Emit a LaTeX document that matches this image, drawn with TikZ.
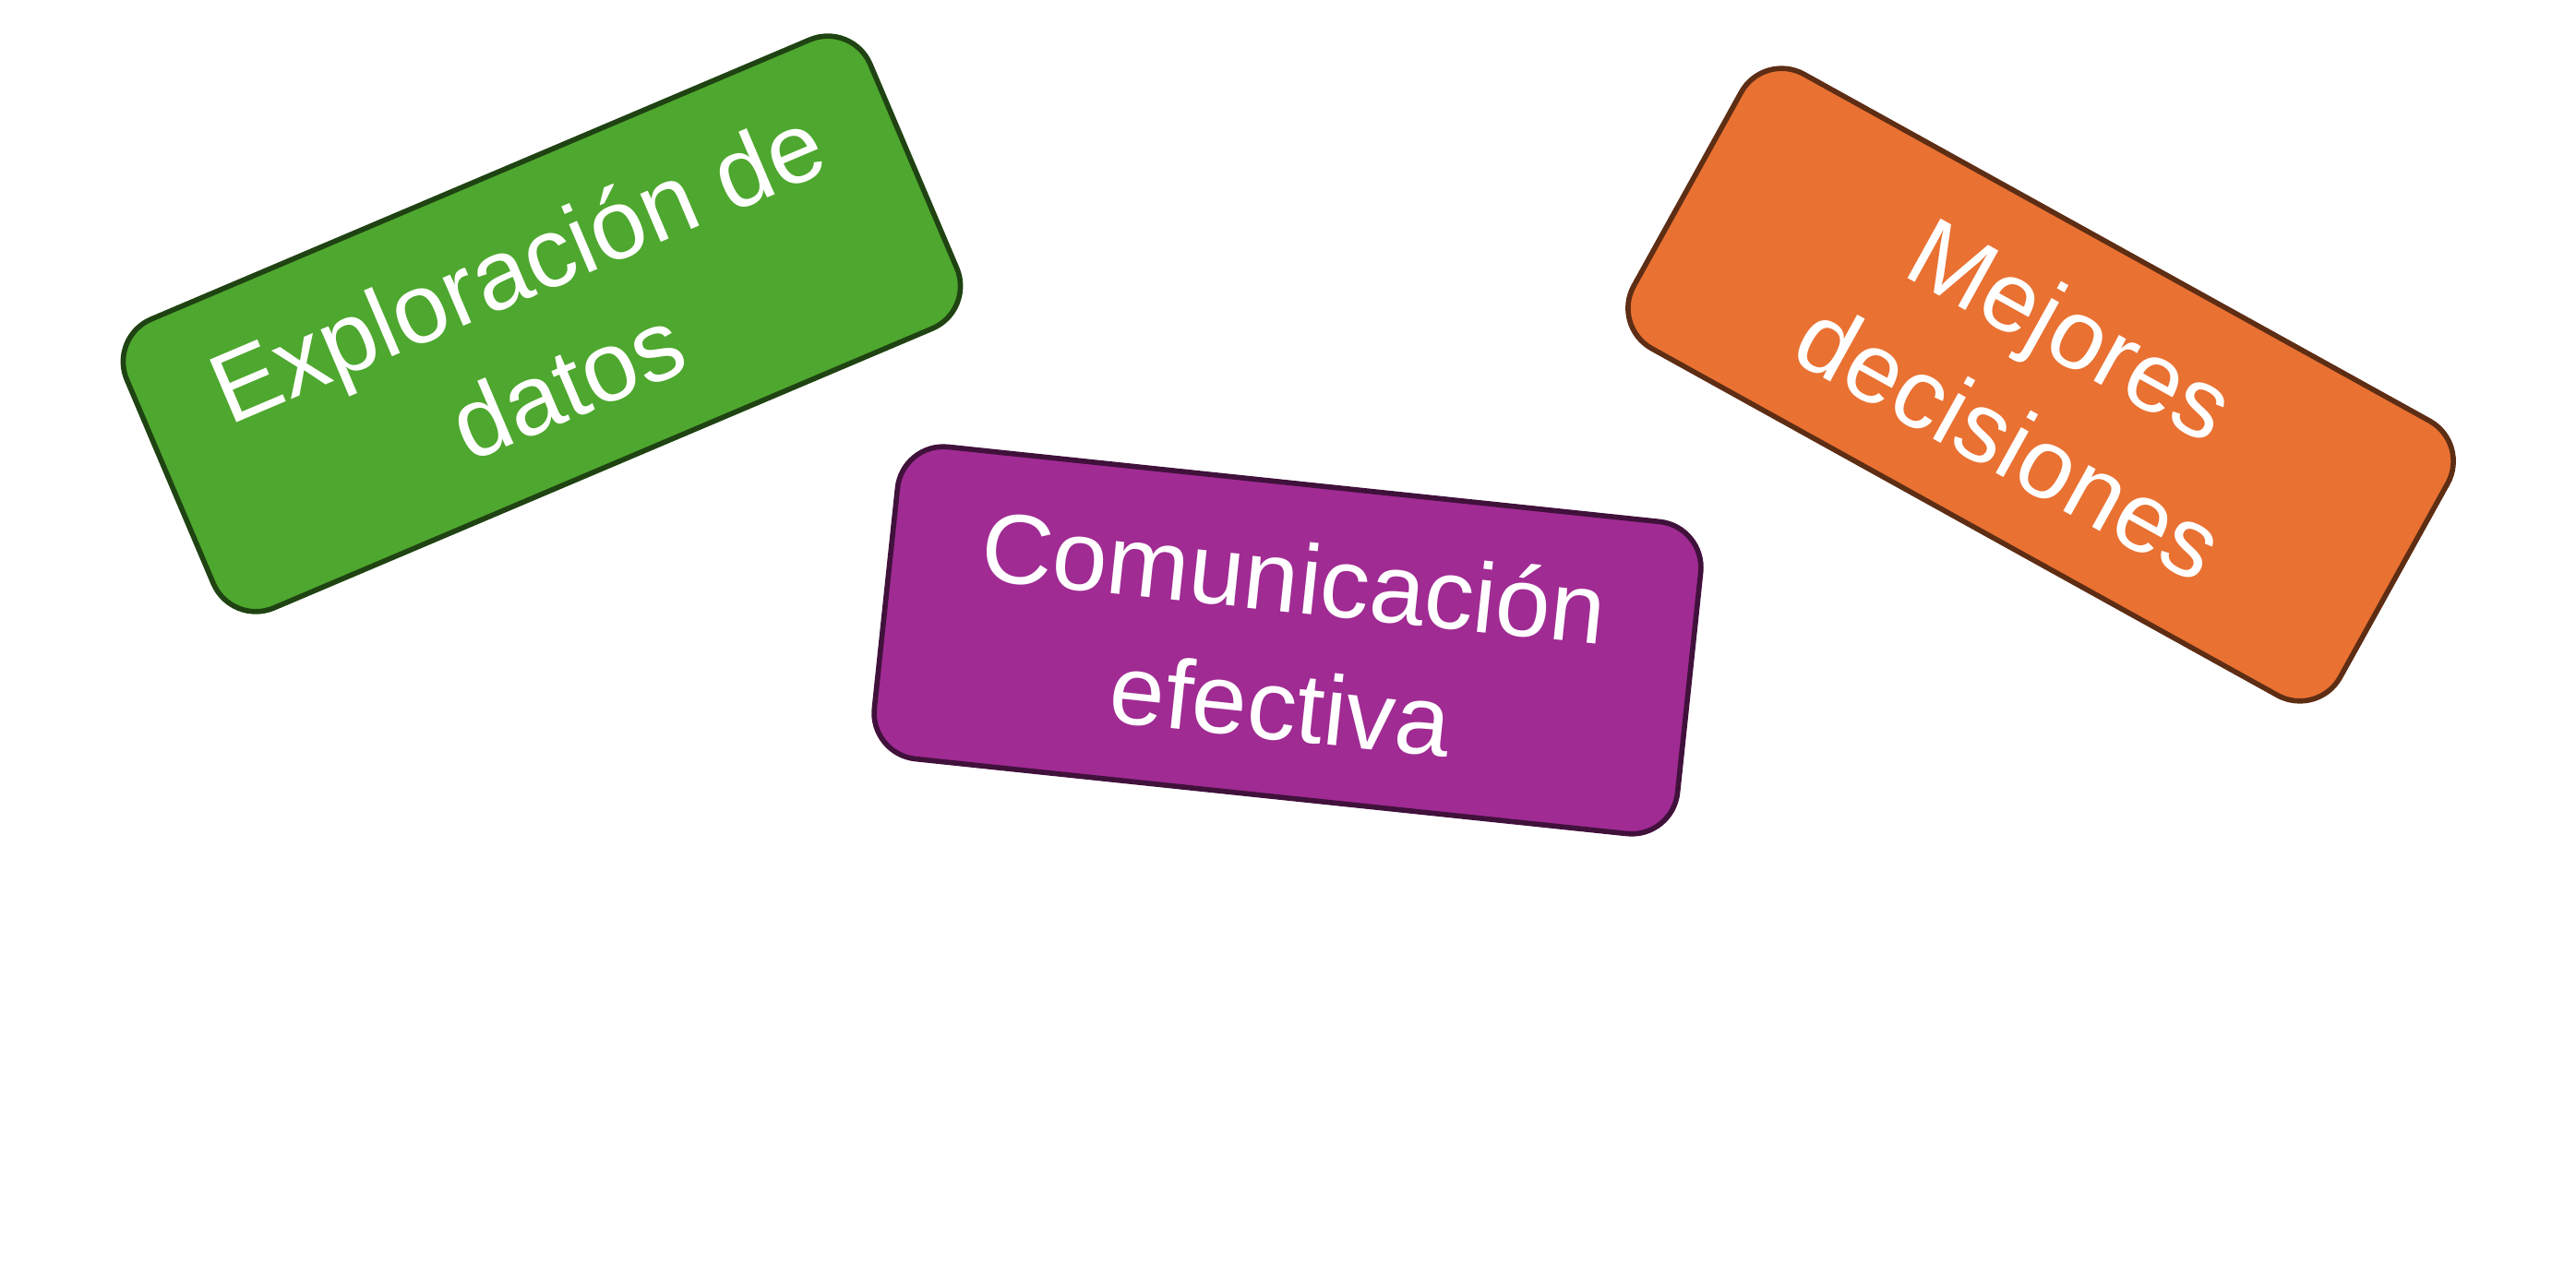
\documentclass[tikz,border=0pt]{standalone}
\usepackage{fontspec}
\setmainfont{Liberation Sans}
\usepackage{xcolor}
\definecolor{boxGreen}{HTML}{4EA72E}
\definecolor{boxPurple}{HTML}{A02B93}
\definecolor{boxOrange}{HTML}{E97132}

\begin{document}
\begin{tikzpicture}[
    % one tilted card per idea; only the colour changes
    card/.style={draw, line width=1.6pt, rounded corners=5mm, align=center,
                 minimum width=8.75cm, minimum height=3.4cm, text=white,
                 font=\fontsize{30.5}{39.5}\selectfont},
    grn/.style={card, fill=boxGreen,  draw=boxGreen!40!black},
    pur/.style={card, fill=boxPurple, draw=boxPurple!40!black},
    org/.style={card, fill=boxOrange, draw=boxOrange!40!black},
]
\useasboundingbox (0,0) rectangle (27.91,13.82);

%================= the three cards =================%
\node[grn, rotate=23]  (explora)  at (5.87,10.31)  {Exploración de\\datos};
\node[pur, rotate=-6]  (comunica) at (13.95,6.88)  {Comunicación\\efectiva};
\node[org, rotate=-29] (decide)   at (22.11,9.65)  {Mejores\\decisiones};

\end{tikzpicture}
\end{document}
